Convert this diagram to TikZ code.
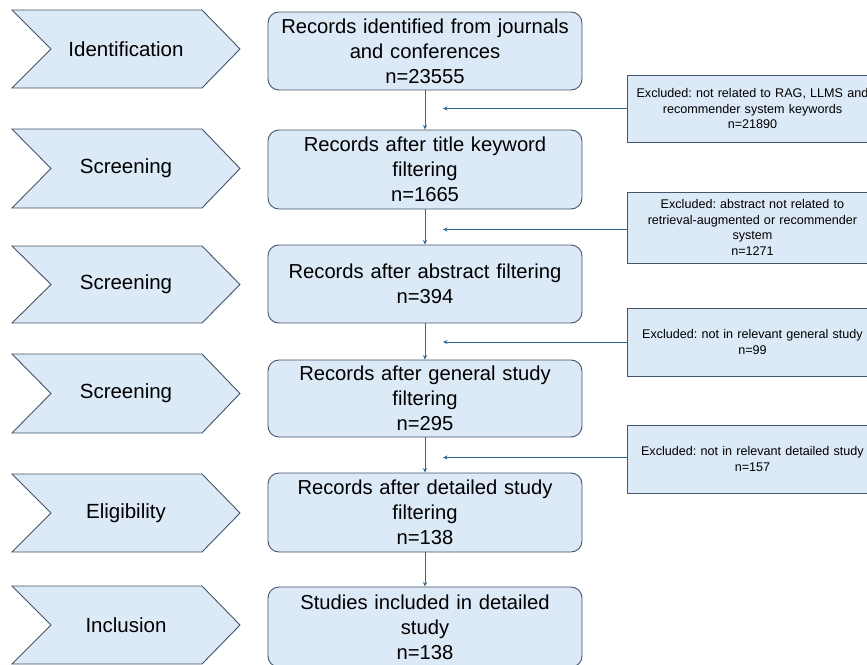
\documentclass[tikz,border=0pt]{standalone}
\usepackage{fontspec}
\setmainfont{Liberation Sans}
\usetikzlibrary{arrows.meta}
\frenchspacing
\definecolor{fillblue}{HTML}{DCE9F6}
\definecolor{edgegray}{HTML}{44546A}
\definecolor{arrowblue}{HTML}{2E6A94}
\tikzset{
  chev/.style={draw=edgegray, fill=fillblue, line width=0.9pt, line join=miter},
  chevtext/.style={font=\fontsize{20.5}{24}\selectfont, inner sep=0pt},
  mainbox/.style={draw=edgegray, fill=fillblue, line width=0.9pt, rounded corners=11pt,
    minimum width=314pt, text width=306pt, align=center, inner sep=0pt,
    font=\fontsize{20.2}{25}\selectfont},
  exbox/.style={draw=edgegray, fill=fillblue, line width=0.9pt,
    minimum width=250pt, text width=240pt, align=center, inner sep=0pt,
    font=\fontsize{12.6}{15.5}\selectfont},
  flow/.style={draw=arrowblue, line width=0.8pt, -{Stealth[length=4.5pt,width=4pt]}},
}
\begin{document}
\begin{tikzpicture}[x=1pt,y=-1pt]
\clip (0,0) rectangle (867,664);
\fill[white] (0,0) rectangle (867,664);
% chevrons
\foreach \t/\b/\n/\lab in {10/88/c1/Identification,129/208/c2/Screening,246/323/c3/Screening,354/433/c4/Screening,474/552/c5/Eligibility,586/664/c6/Inclusion}{
  \draw[chev] (12,\t) -- (202,\t) -- (240,{(\t+\b)/2}) -- (202,\b) -- (12,\b) -- (51,{(\t+\b)/2}) -- cycle;
  \node[chevtext] (\n) at (126,{(\t+\b)/2}) {\lab};
}
% main boxes
\node[mainbox, minimum height=78pt] (b1) at (425,51) {Records identified from journals\\and conferences\\n=23555};
\node[mainbox, minimum height=79pt] (b2) at (425,169.5) {Records after title keyword\\filtering\\n=1665};
\node[mainbox, minimum height=78pt] (b3) at (425,284) {Records after abstract filtering\\n=394};
\node[mainbox, minimum height=77pt] (b4) at (425,398.5) {Records after general study\\filtering\\n=295};
\node[mainbox, minimum height=79pt] (b5) at (425,512.5) {Records after detailed study\\filtering\\n=138};
\node[mainbox, minimum height=80pt] (b6) at (425,627) {Studies included in detailed\\study\\n=138};
% exclusion boxes
\node[exbox, minimum height=67pt, anchor=west] (e1) at (627,108.5) {Excluded: not related to RAG, LLMS and\\recommender system keywords\\n=21890};
\node[exbox, minimum height=71pt, anchor=west] (e2) at (627,227.5) {Excluded: abstract not related to\\retrieval-augmented or recommender\\system\\n=1271};
\node[exbox, minimum height=68pt, anchor=west] (e3) at (627,342) {Excluded: not in relevant general study\\n=99};
\node[exbox, minimum height=68pt, anchor=west] (e4) at (627,459) {Excluded: not in relevant detailed study\\n=157};
% vertical flow
\draw[flow] (b1.south) -- (b2.north);
\draw[flow] (b2.south) -- (b3.north);
\draw[flow] (b3.south) -- (b4.north);
\draw[flow] (b4.south) -- (b5.north);
\draw[flow] (b5.south) -- (b6.north);
% exclusion arrows
\coordinate (t1) at (443,108.5);
\coordinate (t2) at (443,229.5);
\coordinate (t3) at (443,342);
\coordinate (t4) at (443,457.5);
\draw[flow] (e1.west) -- (t1);
\draw[flow] (e2.west |- t2) -- (t2);
\draw[flow] (e3.west) -- (t3);
\draw[flow] (e4.west |- t4) -- (t4);
\end{tikzpicture}
\end{document}
